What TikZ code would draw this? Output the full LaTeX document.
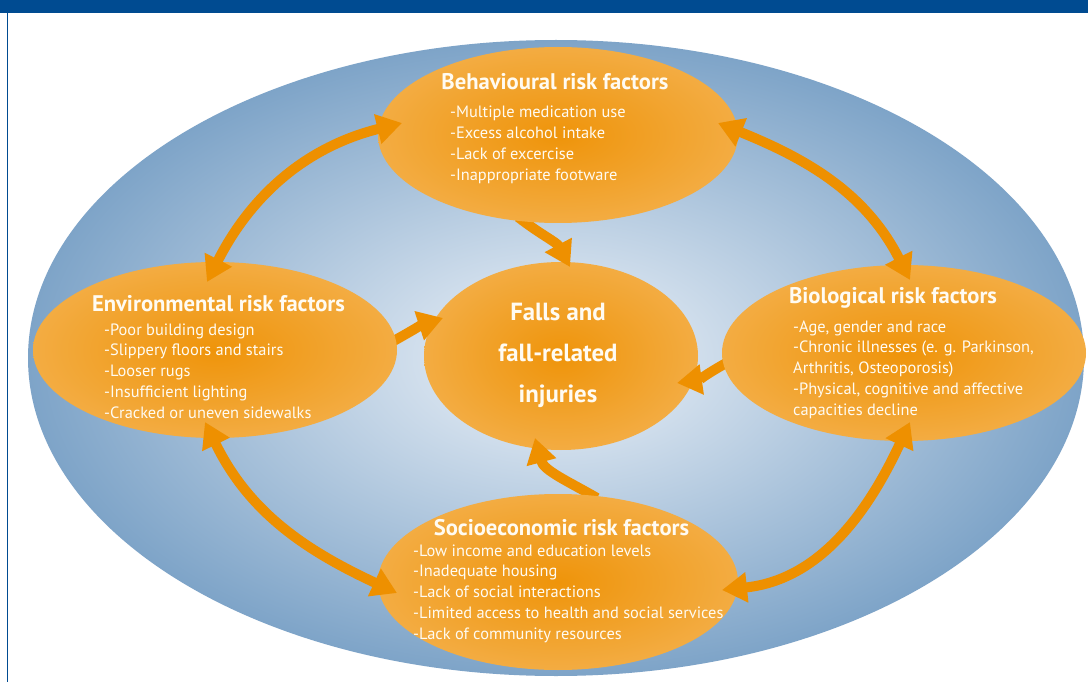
\documentclass[tikz,border=0pt]{standalone}
\usepackage{fontspec}
\setmainfont{PT Sans}
\usetikzlibrary{shapes.geometric,arrows.meta}
\definecolor{barblue}{RGB}{0,75,145}
\definecolor{bgin}{RGB}{238,243,249}
\definecolor{bgout}{RGB}{126,164,200}
\definecolor{orin}{RGB}{239,148,10}
\definecolor{orout}{RGB}{243,172,66}
\definecolor{arr}{RGB}{238,144,0}
\definecolor{txt}{RGB}{255,251,242}
\pgfdeclarelayer{back}
\pgfdeclarelayer{mid}
\pgfdeclarelayer{front}
\pgfsetlayers{back,mid,main,front}
\begin{document}
\begin{tikzpicture}[x=1pt,y=1pt,
  oval/.style={shape=ellipse, inner sep=0pt, inner color=orin, outer color=orout},
  bigoval/.style={shape=ellipse, inner sep=0pt, inner color=bgin, outer color=bgout},
  dblarrow/.style={draw=arr, line width=10pt, {Triangle[length=25pt,width=29pt]}-{Triangle[length=25pt,width=29pt]}},
  sglarrow/.style={draw=arr, line width=10pt, -{Triangle[length=25pt,width=29pt]}},
  item/.style={font=\fontsize{16.4}{21}\selectfont, text=txt, anchor=base west, inner sep=0pt},
  ttl/.style={font=\fontsize{22.6}{27}\selectfont\bfseries, text=txt, anchor=base, inner sep=0pt},
  ftxt/.style={font=\fontsize{24.8}{29}\selectfont\bfseries, text=txt, anchor=base, inner sep=0pt}]
\useasboundingbox (0,0) rectangle (1088,-682);
\begin{pgfonlayer}{back}
\fill[white] (0,0) rectangle (1088,-682);
\node[bigoval, minimum width=1056pt, minimum height=636pt] (bg) at (556,-358) {};
\fill[barblue] (0,0) rectangle (1088,-13);
\fill[barblue] (6.8,-13) rectangle (8.2,-682);
\node[oval, minimum width=274pt, minimum height=188pt] (falls) at (561,-356) {};
\end{pgfonlayer}
% outer ellipses
\node[oval, minimum width=360pt, minimum height=176pt] (beh) at (558,-135) {};
\node[oval, minimum width=364pt, minimum height=176pt] (env) at (215,-350) {};
\node[oval, minimum width=364pt, minimum height=176pt] (bio) at (904,-353) {};
\node[oval, minimum width=360pt, minimum height=176pt] (soc) at (558,-582) {};
% single arrows into the centre
\begin{pgfonlayer}{mid}
\draw[sglarrow] ([shift={(-40,-82)}]beh.center) to[out=-38,in=118] ([shift={(9,89)}]falls.center);
\draw[sglarrow] ([shift={(175,7)}]env.center) to[out=29,in=198] ([shift={(-118,38)}]falls.center);
\draw[sglarrow] ([shift={(-176,-9)}]bio.center) to[out=209,in=8] ([shift={(116,-27)}]falls.center);
\draw[sglarrow] ([shift={(39,84)}]soc.center) to[out=150,in=285] ([shift={(-26,-82)}]falls.center);
\end{pgfonlayer}
\begin{pgfonlayer}{front}
% double arrows between neighbours
\draw[dblarrow] ([shift={(-8,68)}]env.center) to[out=63,in=194] ([shift={(-156,12)}]beh.center);
\draw[dblarrow] ([shift={(160,12)}]beh.center) to[out=-22,in=117] ([shift={(6,73)}]bio.center);
\draw[dblarrow] ([shift={(-10,-72)}]env.center) to[out=-64,in=155] ([shift={(-161,-11)}]soc.center);
\draw[dblarrow] ([shift={(6,-69)}]bio.center) to[out=245,in=6] ([shift={(164,-8)}]soc.center);
% texts
\node[ttl] (behT) at (555,-90) {Behavioural risk factors};
\foreach \t [count=\i] in {{-Multiple medication use},{-Excess alcohol intake},{-Lack of excercise},{-Inappropriate footware}}
  \node[item] (behL\i) at (450,{-118-21*(\i-1)}) {\t};
\node[ttl] (envT) at (218.5,-311) {Environmental risk factors};
\foreach \t [count=\i] in {{-Poor building design},{-Slippery floors and stairs},{-Looser rugs},{-Insufficient lighting},{-Cracked or uneven sidewalks}}
  \node[item] (envL\i) at (104,{-335-20.75*(\i-1)}) {\t};
\node[ttl] (bioT) at (893,-303) {Biological risk factors};
\foreach \t [count=\i] in {{-Age, gender and race},{-Chronic illnesses (e. g. Parkinson,},{Arthritis,  Osteoporosis)},{-Physical, cognitive and affective},{capacities decline}}
  \node[item] (bioL\i) at (793,{-332-20.75*(\i-1)}) {\t};
\node[ttl] (socT) at (561.5,-535) {Socioeconomic risk factors};
\foreach \t [count=\i] in {{-Low income and education levels},{-Inadequate housing},{-Lack of social interactions},{-Limited access to health and social services},{-Lack of community resources}}
  \node[item] (socL\i) at (413,{-556-20.75*(\i-1)}) {\t};
\node[ftxt] (f1) at (558,-320) {Falls and};
\node[ftxt] (f2) at (558,-361) {fall-related};
\node[ftxt] (f3) at (558,-402) {injuries};
\end{pgfonlayer}
\end{tikzpicture}
\end{document}
